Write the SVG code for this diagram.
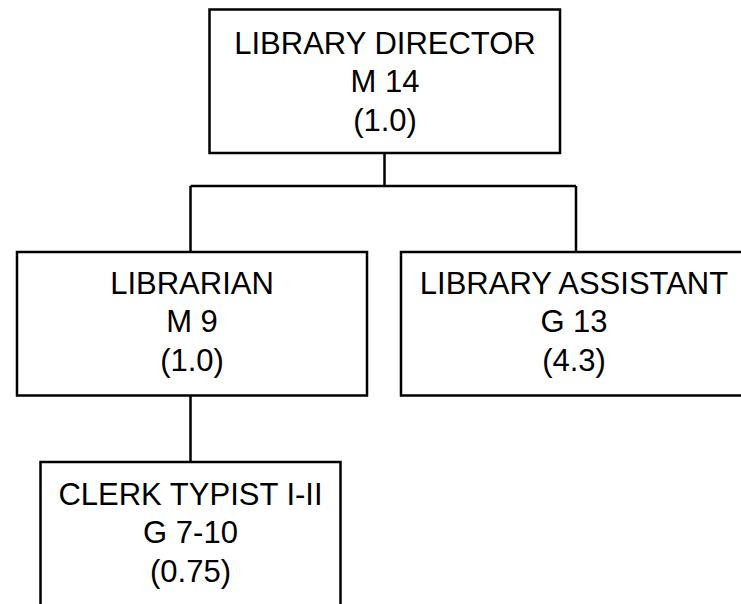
<svg xmlns="http://www.w3.org/2000/svg" width="741" height="604" viewBox="0 0 741 604">
<style>
.box{fill:#fff;stroke:#000;stroke-width:2.5}
.t{font-family:"Liberation Sans",Arial,sans-serif;font-size:31px;fill:#000;text-anchor:middle}
.c{fill:none;stroke:#000;stroke-width:2.5}
</style>
<defs><clipPath id="clip"><rect x="0" y="0" width="741" height="589"/></clipPath></defs>
<g id="connectors">
<path class="c" d="M384.5 153V186M190.5 186H576M190.5 186V252M576 186V252M190.5 395V462"/>
</g>
<g id="director">
<rect class="box" x="209.5" y="9.5" width="350.5" height="143.5"/>
<text class="t" x="385" y="53.5">LIBRARY DIRECTOR</text>
<text class="t" x="385" y="92">M 14</text>
<text class="t" x="385" y="130.5">(1.0)</text>
</g>
<g id="librarian">
<rect class="box" x="17" y="252" width="350" height="143.5"/>
<text class="t" x="192" y="293.5">LIBRARIAN</text>
<text class="t" x="192" y="332">M 9</text>
<text class="t" x="192" y="370.5">(1.0)</text>
</g>
<g id="assistant">
<rect class="box" x="401" y="252" width="360" height="143.5"/>
<text class="t" x="574" y="293.5">LIBRARY ASSISTANT</text>
<text class="t" x="574" y="332">G 13</text>
<text class="t" x="574" y="370.5">(4.3)</text>
</g>
<g id="clerk">
<rect class="box" x="40.5" y="462" width="300" height="160"/>
<g clip-path="url(#clip)">
<text class="t" x="190.5" y="504.5">CLERK TYPIST I-II</text>
<text class="t" x="190.5" y="543">G 7-10</text>
<text class="t" x="190.5" y="581.5">(0.75)</text>
</g>
</g>
</svg>
